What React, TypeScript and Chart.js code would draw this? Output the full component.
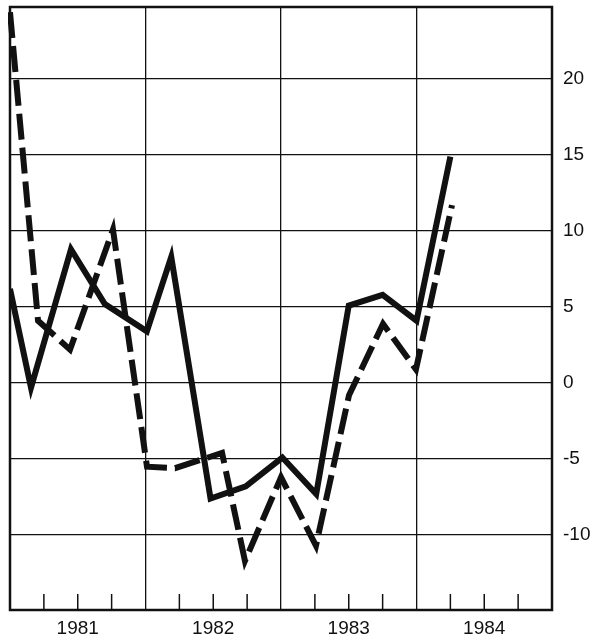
import React, { useEffect, useRef } from "react";
import { Chart, registerables } from "chart.js";

Chart.register(...registerables);

const solidYears = [1981.0, 1981.155, 1981.45, 1981.7, 1982.01, 1982.19, 1982.48, 1982.74, 1983.01, 1983.26, 1983.5, 1983.75, 1984.0, 1984.25];
const solidValues = [6.2, -0.3, 8.8, 5.2, 3.4, 8.3, -7.6, -6.8, -4.9, -7.3, 5.1, 5.8, 4.1, 14.9];

const dashedYears = [1981.0, 1981.207, 1981.443, 1981.76, 1982.011, 1982.218, 1982.565, 1982.734, 1983.0, 1983.258, 1983.502, 1983.753, 1983.996, 1984.262];
const dashedValues = [24.4, 4.1, 2.2, 10.1, -5.5, -5.6, -4.6, -11.7, -6.2, -10.7, -0.8, 3.9, 0.9, 11.7];

const yearLabels = ["1981", "1982", "1983", "1984"];
const yTickValues = [-10, -5, 0, 5, 10, 15, 20];

const X_MIN = 1981;
const X_MAX = 1985;
const Y_MIN = -14.93;
const Y_MAX = 24.74;

const INK = "#111";
const FONT = "'Liberation Sans', Arial, Helvetica, sans-serif";

const framePlugin = {
  id: "framePlugin",
  afterDraw(chart: any) {
    const { ctx, chartArea } = chart;
    const xs = chart.scales.x;
    ctx.save();
    ctx.strokeStyle = INK;
    ctx.lineWidth = 1.5;
    for (let q = X_MIN * 4; q <= X_MAX * 4; q++) {
      const v = q / 4;
      if (Number.isInteger(v)) continue;
      const px = xs.getPixelForValue(v);
      ctx.beginPath();
      ctx.moveTo(px, chartArea.bottom);
      ctx.lineTo(px, chartArea.bottom - 16);
      ctx.stroke();
    }
    ctx.lineWidth = 2.5;
    ctx.strokeRect(chartArea.left, chartArea.top, chartArea.right - chartArea.left, chartArea.bottom - chartArea.top);
    ctx.restore();
  },
};

export default function App() {
  const ref = useRef<HTMLCanvasElement | null>(null);

  useEffect(() => {
    if (!ref.current) return;
    const solidData = solidYears.map((x, i) => ({ x, y: solidValues[i] }));
    const dashedData = dashedYears.map((x, i) => ({ x, y: dashedValues[i] }));
    const chart = new Chart(ref.current, {
      type: "line",
      data: {
        datasets: [
          {
            data: solidData,
            borderColor: INK,
            borderWidth: 6,
            pointRadius: 0,
            tension: 0,
            borderJoinStyle: "miter",
            borderCapStyle: "butt",
            clip: 0,
          },
          {
            data: dashedData,
            borderColor: INK,
            borderWidth: 6,
            borderDash: [26, 8],
            pointRadius: 0,
            tension: 0,
            borderJoinStyle: "miter",
            borderCapStyle: "butt",
            clip: 2,
          },
        ],
      },
      options: {
        animation: false,
        responsive: false,
        maintainAspectRatio: false,
        events: [],
        layout: { padding: { left: 10, top: 7, right: 0, bottom: 0 } },
        plugins: {
          legend: { display: false },
          tooltip: { enabled: false },
        },
        scales: {
          x: {
            type: "linear",
            min: X_MIN,
            max: X_MAX,
            afterBuildTicks: (scale: any) => {
              const t = [];
              for (let q = X_MIN * 4; q <= X_MAX * 4; q++) t.push({ value: q / 4 });
              scale.ticks = t;
            },
            afterFit: (scale: any) => {
              scale.height = 33;
              scale.paddingLeft = 0;
              scale.paddingRight = 0;
            },
            border: { display: false },
            grid: {
              drawTicks: false,
              color: (c: any) => (c.tick && Number.isInteger(c.tick.value) ? INK : "rgba(0,0,0,0)"),
              lineWidth: 1.3,
            },
            ticks: {
              autoSkip: false,
              maxRotation: 0,
              padding: 7,
              color: INK,
              font: { family: FONT, size: 19 },
              callback: (v: any) => {
                const val = Number(v);
                const idx = Math.floor(val) - X_MIN;
                return Math.abs(val - Math.floor(val) - 0.5) < 1e-6 && idx >= 0 && idx < yearLabels.length ? yearLabels[idx] : "";
              },
            },
          },
          y: {
            type: "linear",
            position: "right",
            min: Y_MIN,
            max: Y_MAX,
            afterBuildTicks: (scale: any) => {
              scale.ticks = yTickValues.map((v) => ({ value: v }));
            },
            afterFit: (scale: any) => {
              scale.width = 47;
              scale.paddingTop = 0;
              scale.paddingBottom = 0;
            },
            border: { display: false },
            grid: {
              drawTicks: false,
              color: INK,
              lineWidth: 1.3,
            },
            ticks: {
              padding: 11,
              color: INK,
              crossAlign: "near",
              font: { family: FONT, size: 19 },
              callback: (v: any) => String(v),
            },
          },
        },
      },
      plugins: [framePlugin],
    } as any);
    return () => chart.destroy();
  }, []);

  return (
    <div style={{ position: "fixed", left: 0, top: 0, width: 599, height: 643, background: "#fff" }}>
      <canvas ref={ref} width={599} height={643} style={{ display: "block", width: 599, height: 643 }} />
    </div>
  );
}
